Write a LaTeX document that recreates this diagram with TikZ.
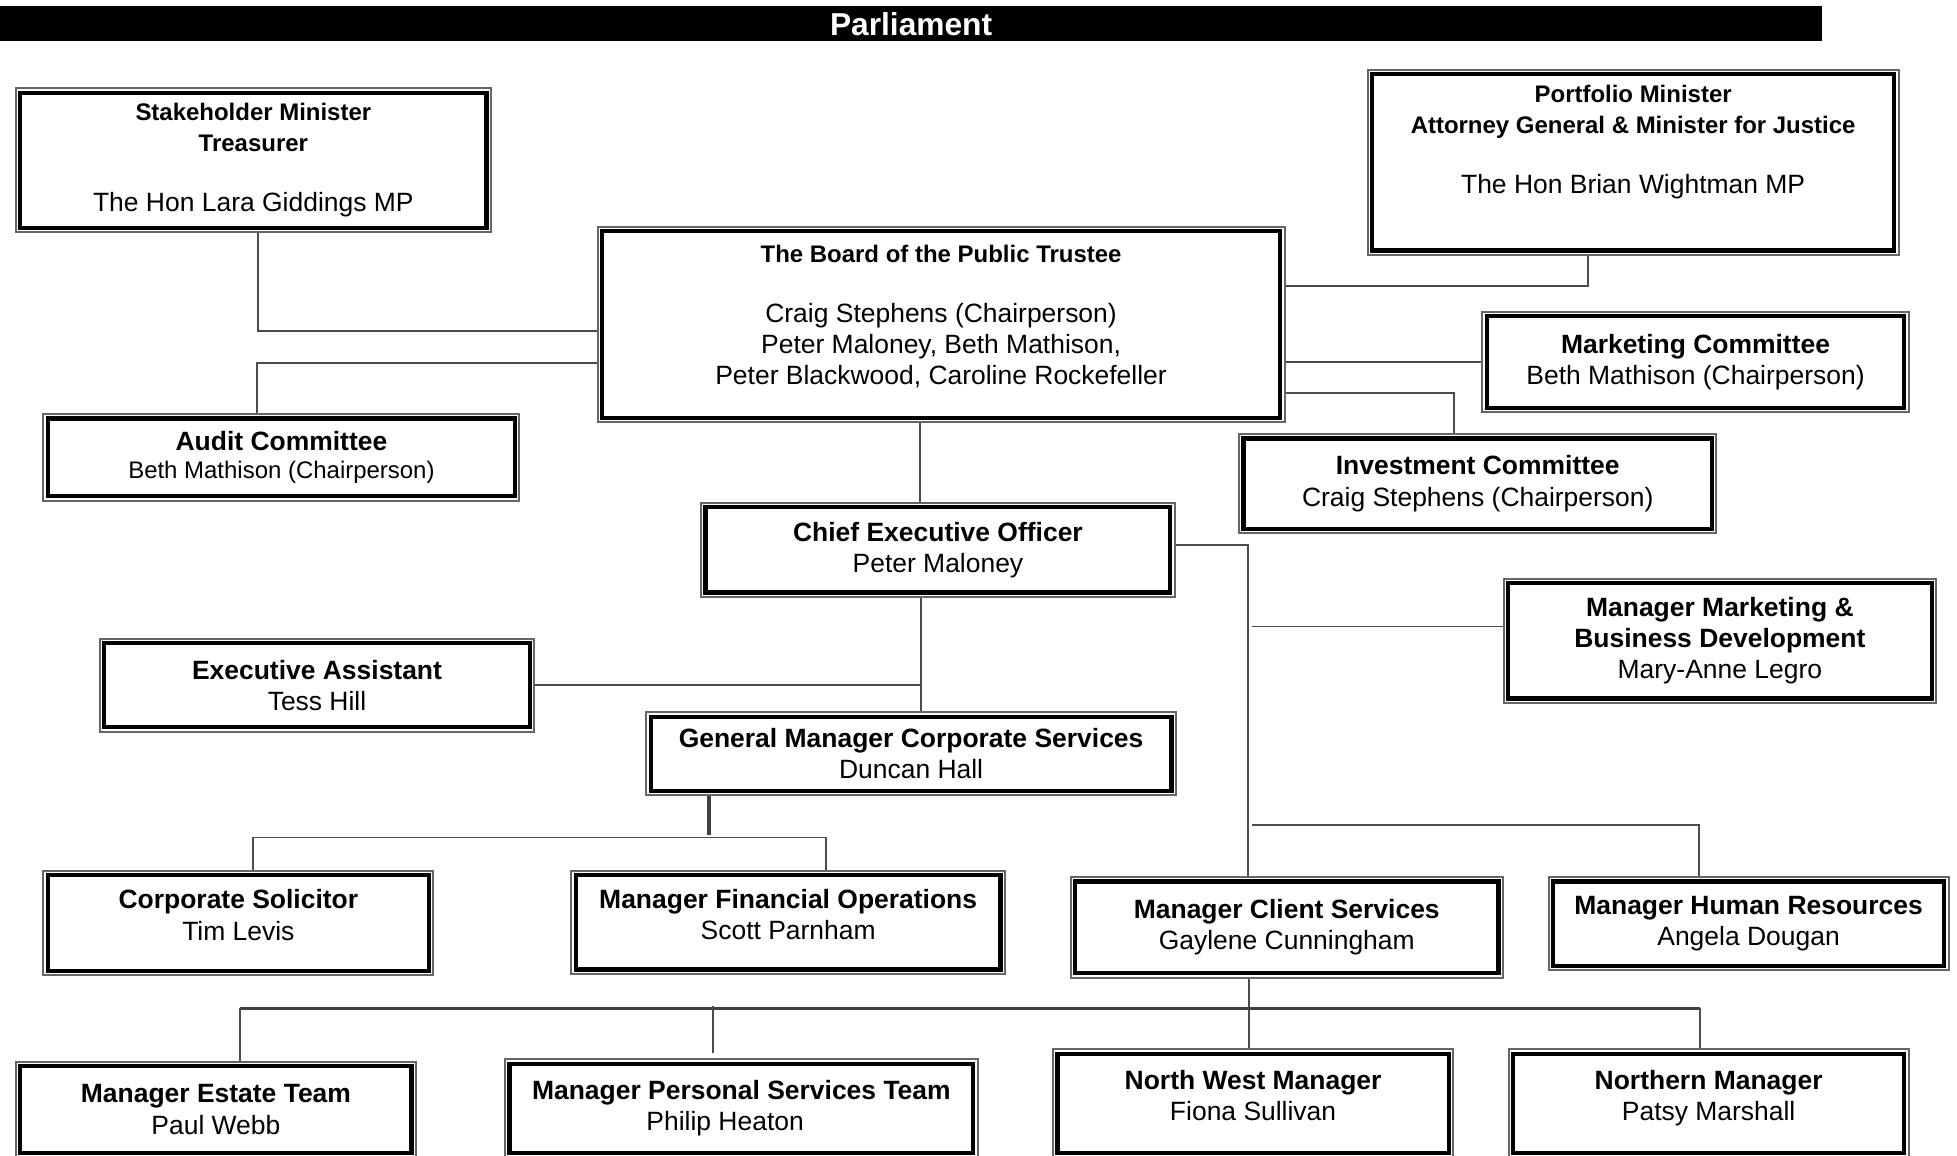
\documentclass[tikz,border=0pt]{standalone}
\usepackage{fontspec}
\setmainfont{Liberation Sans}
\usetikzlibrary{positioning}

\newcommand{\hd}[1]{{\fontsize{9.6pt}{11.5pt}\selectfont\bfseries #1}}

\begin{document}
\begin{tikzpicture}[x=0.5pt, y=-0.5pt,
    unit/.style={rectangle, draw=black, fill=white, line width=1.7pt,
      preaction={draw=black!60, line width=4.3pt},
      preaction={draw=white, line width=2.7pt},
      outer sep=2.15pt, inner sep=2pt, align=center,
      font=\fontsize{10.6pt}{12.5pt}\selectfont},
    banner/.style={rectangle, fill=black, text=white, inner sep=0pt,
      font=\fontsize{12.7pt}{14pt}\selectfont\bfseries},
    link/.style={draw=black!70, line width=0.75pt},
    trunk/.style={draw=black!75, line width=1.5pt}]

    \useasboundingbox (0,0) rectangle (1568,926);

    % Parliament
    \node[banner, minimum width=730pt, minimum height=14pt] (parl) at (730,19) {Parliament};

    % Ministers and board
    \node[unit, minimum width=186.7pt, minimum height=54.2pt] (stake) at (203,128.5)
      {\hd{Stakeholder Minister}\\ \hd{Treasurer}\\[11.5pt] The Hon Lara Giddings MP};
    \node[unit, minimum width=209.2pt, minimum height=70.7pt] (port) at (1308.5,130)
      {\hd{Portfolio Minister}\\ \hd{Attorney General \& Minister for Justice}\\[11.5pt]
       The Hon Brian Wightman MP\\[6pt] ~};
    \node[unit, minimum width=271.7pt, minimum height=74.7pt] (board) at (754,260)
      {\hd{The Board of the Public Trustee}\\[11.5pt] Craig Stephens (Chairperson)\\
       Peter Maloney, Beth Mathison,\\ Peter Blackwood, Caroline Rockefeller\\[-5pt] ~};

    % Committees
    \node[unit, minimum width=167.2pt, minimum height=36.7pt] (mkt) at (1358.5,290)
      {\textbf{Marketing Committee}\\ Beth Mathison (Chairperson)};
    \node[unit, minimum width=187.2pt, minimum height=31.2pt] (audit) at (225.5,366.5)
      {\textbf{Audit Committee}\\[-1pt] {\fontsize{9.6pt}{11.5pt}\selectfont Beth Mathison (Chairperson)}};
    \node[unit, minimum width=187.7pt, minimum height=36.2pt] (inv) at (1184,387.5)
      {\textbf{Investment Committee}\\ Craig Stephens (Chairperson)};

    % Executive
    \node[unit, minimum width=186.2pt, minimum height=34.2pt] (ceo) at (751.5,440.5)
      {\textbf{Chief Executive Officer}\\ Peter Maloney};
    \node[unit, minimum width=169.7pt, minimum height=46.2pt] (mmb) at (1378,513.5)
      {\textbf{Manager Marketing \&}\\ \textbf{Business Development}\\ Mary-Anne Legro};
    \node[unit, minimum width=170.7pt, minimum height=33.7pt] (ea) at (254,549)
      {\textbf{Executive Assistant}\\ Tess Hill};
    \node[unit, minimum width=208.7pt, minimum height=29.7pt] (gm) at (730,604)
      {\textbf{General Manager Corporate Services}\\ Duncan Hall};

    % Managers
    \node[unit, minimum width=152.7pt, minimum height=38.2pt] (sol) at (191,739.5)
      {\textbf{Corporate Solicitor}\\ Tim Levis\\[-6pt] ~};
    \node[unit, minimum width=170.2pt, minimum height=37.7pt] (fin) at (631.5,739)
      {\textbf{Manager Financial Operations}\\ Scott Parnham\\[-6pt] ~};
    \node[unit, minimum width=169.7pt, minimum height=36.7pt] (cs) at (1031,743)
      {\textbf{Manager Client Services}\\ Gaylene Cunningham};
    \node[unit, minimum width=156.7pt, minimum height=33.7pt] (hr) at (1401,740)
      {\textbf{Manager Human Resources}\\ Angela Dougan};

    % Teams
    \node[unit, minimum width=156.7pt, minimum height=34.7pt] (estate) at (173,889)
      {\textbf{Manager Estate Team}\\ Paul Webb};
    \node[unit, minimum width=185.7pt, minimum height=35.7pt] (pst) at (594,888)
      {\textbf{Manager Personal Services Team}\\ Philip Heaton\hspace*{13pt}};
    \node[unit, minimum width=156.7pt, minimum height=39.7pt] (nw) at (1004,884)
      {\textbf{North West Manager}\\ Fiona Sullivan\\[-6pt] ~};
    \node[unit, minimum width=156.7pt, minimum height=39.7pt] (north) at (1369,884)
      {\textbf{Northern Manager}\\ Patsy Marshall\\[-6pt] ~};

    % Board links
    \draw[link] ([xshift=2pt]stake.south) |- (board.west |- 0,265);
    \draw[link] (audit.north -| 206,0) |- (board.west |- 0,291);
    \draw[link] (board.east |- 0,229) -| (port.south -| 1272,0);
    \draw[link] (board.east |- mkt.west) -- (mkt.west);
    \draw[link] (board.east |- 0,315) -| (inv.north -| 1165,0);
    \draw[link] (board.south -| 737,0) -- (ceo.north -| 737,0);

    % CEO links
    \coordinate (eaJ) at (738,549);
    \coordinate (spine) at (1000,437);
    \coordinate (mmbJ) at (1003,502);
    \coordinate (hrJ) at (1003,661);
    \draw[link] (ceo.south -| eaJ) -- (gm.north -| eaJ);
    \draw[link] (ea.east) -- (ea.east -| eaJ);
    \draw[link] (ceo.east |- spine) -- (spine) -- (cs.north -| spine);
    \draw[link] (mmbJ) -- (mmb.west |- mmbJ);
    \draw[link] (hrJ) -| (hr.north -| 1361,0);

    % Corporate services links
    \coordinate (gmJ) at (568,669);
    \coordinate (solJ) at (203,671);
    \coordinate (finJ) at (662,671);
    \draw[trunk] (gm.south -| gmJ) -- (gmJ);
    \draw[link] (sol.north -| solJ) -- (solJ) -- (finJ) -- (fin.north -| finJ);

    % Client services links
    \coordinate (teamL) at (192,808);
    \coordinate (teamM) at (571,806);
    \coordinate (teamR) at (1362,808);
    \draw[link] (cs.south -| 1001,0) -- (nw.north -| 1001,0);
    \draw[trunk] (teamL) -- (teamR);
    \draw[link] (teamL) -- (estate.north -| teamL);
    \draw[link, shorten >=2pt] (teamM) -- (pst.north -| teamM);
    \draw[link] (teamR) -- (north.north -| teamR);
\end{tikzpicture}
\end{document}
